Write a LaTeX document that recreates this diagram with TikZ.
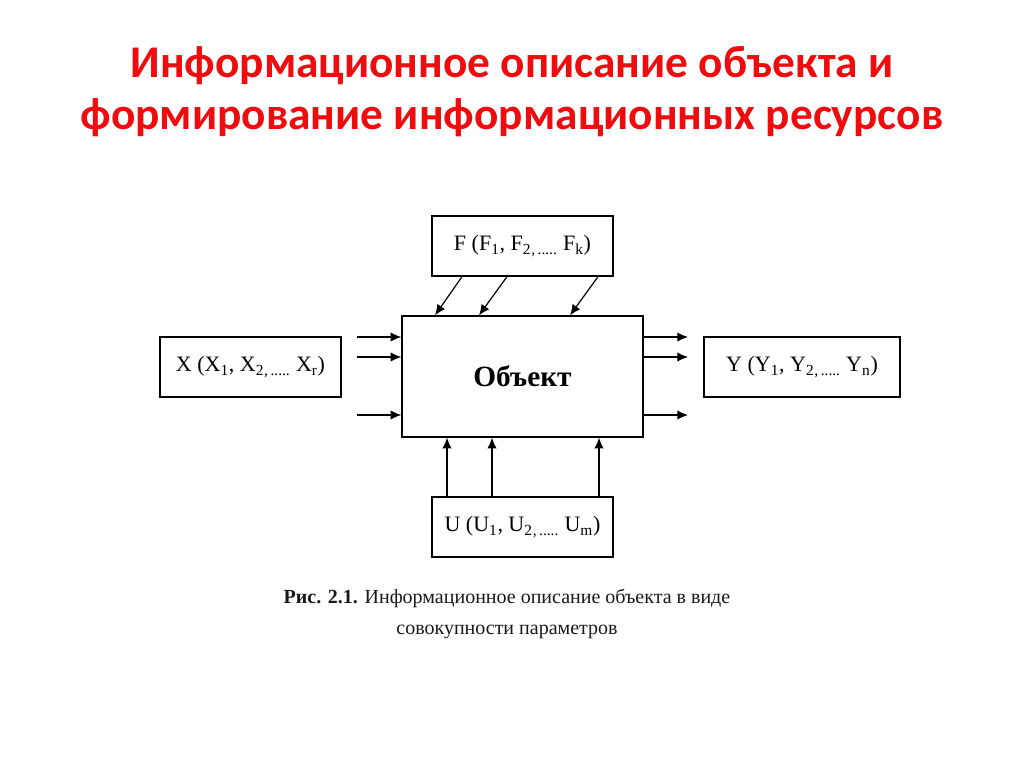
\documentclass[tikz,border=0pt]{standalone}
\usepackage{fontspec}
\setmainfont{Liberation Serif}
\newfontfamily\titlefont{Carlito}
\usetikzlibrary{arrows.meta}
\definecolor{titlered}{RGB}{238,12,14}
\tikzset{
	parbox/.style={draw, line width=1pt, minimum width=135.75pt, minimum height=45pt,
		inner sep=0pt, font=\fontsize{16.5}{19}\selectfont},
	inarrow/.style={-{Latex[length=8pt,width=7pt]}, line width=0.9pt}
}
\newcommand{\sub}[1]{\textsubscript{#1}}
\begin{document}
\begin{tikzpicture}[x=0.75pt,y=-0.75pt]
		\useasboundingbox (0,0) rectangle (1024,767);
		% title
		\node[font=\titlefont\bfseries\fontsize{34}{39}\selectfont, text=titlered, align=center]
		(title) at (512,92) {Информационное описание объекта и\\формирование информационных ресурсов};
		
		% boxes
		\node[parbox, minimum width=180.75pt, minimum height=90.75pt,
		font=\bfseries\fontsize{22}{26}\selectfont] (obj) at (522.5,376.5) {Объект};
		\node[parbox] (f) at (522.5,246) {F (F\sub{1}, F\sub{2}\sub{,\,.....} F\sub{k})};
		\node[parbox] (x) at (250.5,367) {X (X\sub{1}, X\sub{2}\sub{,\,.....} X\sub{r})};
		\node[parbox, minimum width=147pt] (y) at (802,367) {Y (Y\sub{1}, Y\sub{2}\sub{,\,.....} Y\sub{n})};
		\node[parbox] (u) at (522.5,527) {U (U\sub{1}, U\sub{2}\sub{,\,.....} U\sub{m})};
		
		% arrows F -> object
		\foreach \a/\b [count=\i] in {462/435,507/479,598/570} {
			\coordinate (fa\i) at (\a,0);
			\coordinate (fb\i) at (\b,0);
			\draw[inarrow] (fa\i |- f.south) -- (fb\i |- obj.north);
		}
		% inputs X and outputs Y
		\foreach \yy [count=\i] in {337,357,415} {
			\coordinate (xin\i) at (357,\yy);
			\coordinate (yout\i) at (688,\yy);
			\draw[inarrow] (xin\i) -- (xin\i -| obj.west);
			\draw[inarrow] (yout\i -| obj.east) -- (yout\i);
		}
		% arrows U -> object
		\foreach \xx [count=\i] in {447,492,599} {
			\coordinate (ux\i) at (\xx,0);
			\draw[inarrow] (ux\i |- u.north) -- (ux\i |- obj.south);
		}
		
		% caption
		\node[font=\fontsize{15}{23.25}\selectfont, align=center, text=black!90]
		(caption) at (507,614) {\textbf{Рис. 2.1.} Информационное описание объекта в виде\\совокупности параметров};
\end{tikzpicture}
\end{document}
